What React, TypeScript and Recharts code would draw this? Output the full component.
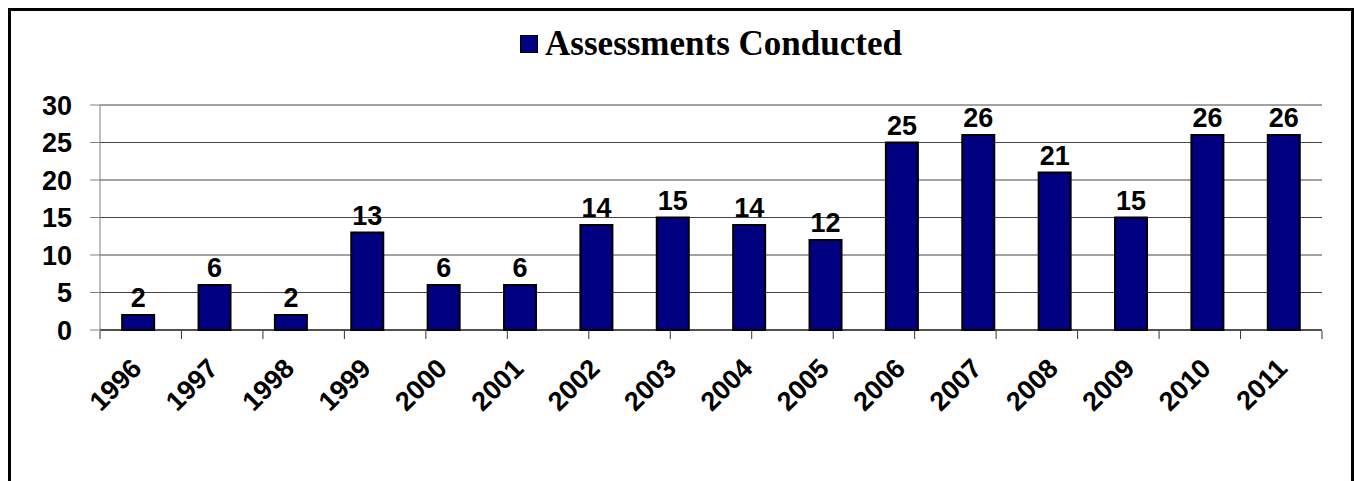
import React from "react";
import {
  BarChart,
  Bar,
  XAxis,
  YAxis,
  CartesianGrid,
  Legend,
  LabelList,
} from "recharts";

const years = ["1996", "1997", "1998", "1999", "2000", "2001", "2002", "2003", "2004", "2005", "2006", "2007", "2008", "2009", "2010", "2011"];
const assessments = [2, 6, 2, 13, 6, 6, 14, 15, 14, 12, 25, 26, 21, 15, 26, 26];
const yTicks = [0, 5, 10, 15, 20, 25, 30];
const boundaryTicks = years.map((_, i) => i).concat([years.length]);
const seriesName = "Assessments Conducted";

const data = years.map((year, i) => ({ year, value: assessments[i] }));

const SANS = "'Liberation Sans', Arial, sans-serif";
const SERIF = "'Liberation Serif', 'Times New Roman', serif";

const XTick = (props: any) => {
  const { x, y, payload } = props;
  const ax = x + 5;
  const ay = y + 40;
  return (
    <text
      x={ax}
      y={ay}
      transform={`rotate(-45, ${ax}, ${ay})`}
      textAnchor="end"
      fontFamily={SANS}
      fontWeight="bold"
      fontSize={27}
      fill="#000"
    >
      {payload.value}
    </text>
  );
};

const EmptyTick = () => <g />;

const LegendContent = () => (
  <div
    style={{
      display: "flex",
      justifyContent: "center",
      alignItems: "center",
      height: 34,
    }}
  >
    <span
      style={{
        display: "inline-block",
        width: 16,
        height: 16,
        background: "#000080",
        border: "1.5px solid #000",
        marginRight: 7,
      }}
    />
    <span
      style={{
        fontFamily: SERIF,
        fontWeight: "bold",
        fontSize: 35,
        lineHeight: "34px",
        color: "#000",
      }}
    >
      {seriesName}
    </span>
  </div>
);

export default function App() {
  return (
    <div
      style={{
        width: 1354,
        height: 481,
        padding: "8px 0 0 8px",
        boxSizing: "border-box",
        overflow: "hidden",
        background: "#fff",
      }}
    >
      <style>{"html{overflow:hidden} body{margin:0}"}</style>
      <div
        style={{
          width: 1346,
          height: 490,
          border: "3px solid #000",
          boxSizing: "border-box",
          background: "#fff",
        }}
      >
        <BarChart
          width={1340}
          height={484}
          data={data}
          margin={{ top: 94, right: 29, bottom: 65, left: 9 }}
          barCategoryGap="29%"
        >
          <CartesianGrid vertical={false} stroke="#444" strokeWidth={1} />
          <XAxis
            xAxisId="t"
            type="number"
            domain={[0, years.length]}
            ticks={boundaryTicks}
            interval={0}
            tick={<EmptyTick />}
            tickSize={8}
            tickLine={{ stroke: "#333" }}
            axisLine={false}
            height={99}
            allowDataOverflow
          />
          <XAxis
            dataKey="year"
            interval={0}
            tick={<XTick />}
            tickLine={false}
            tickSize={0}
            tickMargin={0}
            axisLine={{ stroke: "#000", strokeWidth: 1 }}
            height={1}
          />
          <YAxis
            domain={[0, 30]}
            ticks={yTicks}
            interval={0}
            width={80}
            tickSize={10}
            tickMargin={18}
            axisLine={{ stroke: "#808080" }}
            tickLine={{ stroke: "#808080" }}
            tick={{ fontFamily: SANS, fontWeight: "bold", fontSize: 27, fill: "#000" }}
          />
          <Legend
            verticalAlign="middle"
            align="center"
            content={<LegendContent />}
            wrapperStyle={{ top: 16, left: 89, width: 1222 }}
          />
          <Bar
            dataKey="value"
            name={seriesName}
            fill="#000080"
            stroke="#000"
            strokeWidth={2}
            isAnimationActive={false}
          >
            <LabelList
              dataKey="value"
              position="top"
              offset={8}
              fill="#000"
              fontFamily={SANS}
              fontWeight="bold"
              fontSize={27}
            />
          </Bar>
        </BarChart>
      </div>
    </div>
  );
}
